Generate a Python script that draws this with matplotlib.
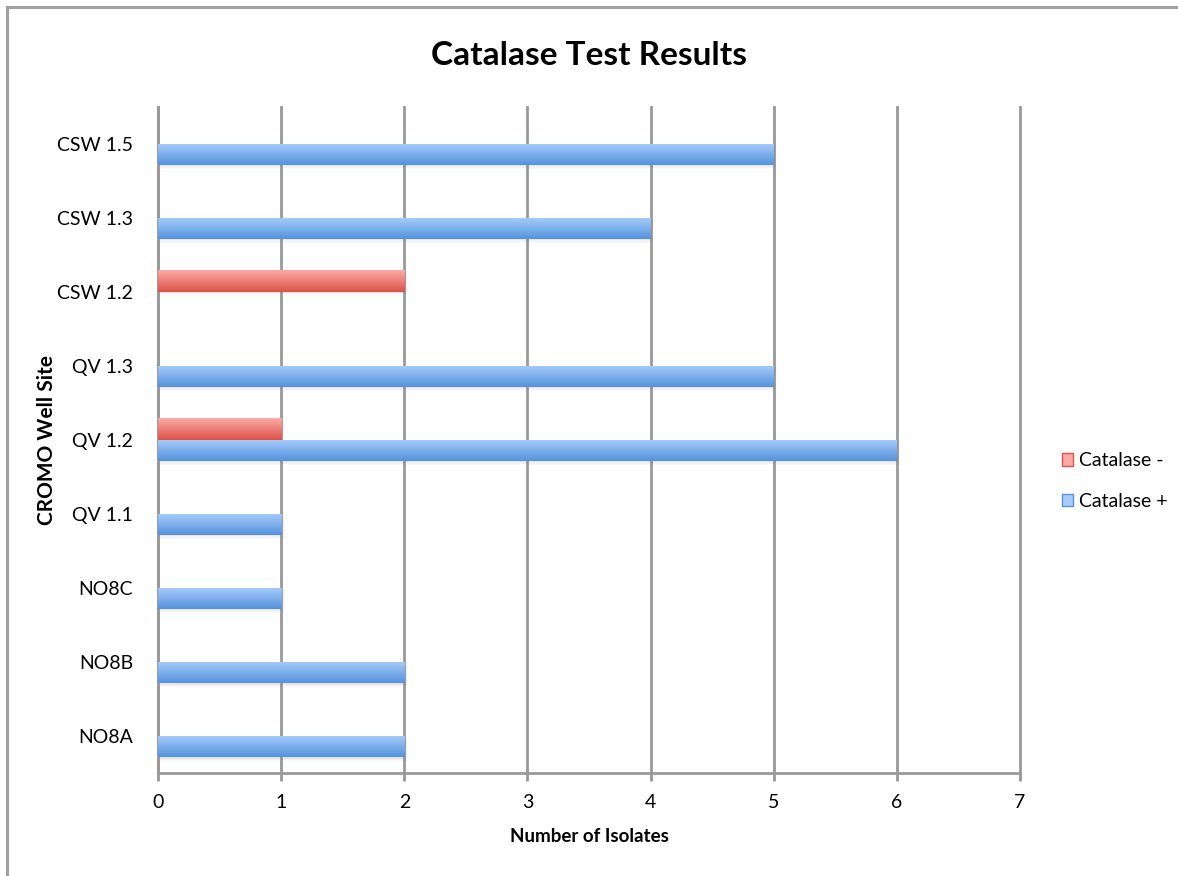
import numpy as np
import matplotlib.pyplot as plt
from matplotlib.patches import Rectangle
from matplotlib.colors import LinearSegmentedColormap

plt.rcParams['font.family'] = ['Lato', 'DejaVu Sans']

# well sites, bottom to top
sites = ['NO8A', 'NO8B', 'NO8C', 'QV 1.1', 'QV 1.2', 'QV 1.3', 'CSW 1.2', 'CSW 1.3', 'CSW 1.5']
catalase_neg = [0, 0, 0, 0, 1, 0, 2, 0, 0]
catalase_pos = [2, 2, 1, 1, 6, 5, 0, 4, 5]

series_names = ['Catalase -', 'Catalase +']
blue_grad = ['#5593dd', '#a8ccfa']
red_grad = ['#dd5249', '#fbaaa6']

fig = plt.figure(figsize=(11.78, 8.76), dpi=100)
W, H = 1178, 876
ax = fig.add_axes([158 / W, 1 - 773 / H, (1020 - 158) / W, (773 - 106.7) / H])

# outer chart frame
fig.patches.append(Rectangle((6.5 / W, -0.05), 1.1, 1 - 6.5 / H + 0.05,
                             transform=fig.transFigure, fill=False,
                             edgecolor='#a0a0a0', linewidth=2.2, zorder=0))

h = 0.29
y = np.arange(len(sites))


def gradient_bars(ypos, widths, colors):
    cmap = LinearSegmentedColormap.from_list('g', colors)
    grad = np.linspace(0, 1, 64).reshape(-1, 1)
    bars = ax.barh(ypos, widths, height=h, color='none', edgecolor='none', zorder=3)
    for b in bars:
        x0, y0 = b.get_x(), b.get_y()
        w, hh = b.get_width(), b.get_height()
        if w <= 0:
            continue
        # soft shadow under each bar
        for k, a in enumerate([0.09, 0.06, 0.03]):
            ax.add_patch(Rectangle((x0 + 0.01, y0 - 0.015 - 0.02 * k), w + 0.01 * k, hh,
                                   facecolor='#777777', edgecolor='none', alpha=a, zorder=2))
        im = ax.imshow(grad, extent=(x0, x0 + w, y0, y0 + hh), origin='lower',
                       cmap=cmap, aspect='auto', zorder=3, interpolation='bilinear')
        im.set_clip_path(b)
    return bars


gradient_bars(y + h / 2, catalase_neg, red_grad)
gradient_bars(y - h / 2, catalase_pos, blue_grad)

ax.set_xlim(0, 7)
ax.set_ylim(-0.5, len(sites) - 0.5)
ax.set_yticks(y)
ax.set_yticklabels(sites)
ax.set_xticks(range(8))
ax.xaxis.grid(True, color='#999999', linewidth=2, zorder=1)
for gl in ax.get_xgridlines():
    gl.set_clip_on(False)
ax.set_axisbelow(True)
for s in ['top', 'right']:
    ax.spines[s].set_visible(False)
for s in ['left', 'bottom']:
    ax.spines[s].set_color('#999999')
    ax.spines[s].set_linewidth(2)
ax.tick_params(axis='x', length=6, width=2, color='#999999', labelsize=14, pad=9)
ax.tick_params(axis='y', length=0, labelsize=14, pad=18)

ax.set_title('Catalase Test Results', fontsize=24, fontweight='bold', pad=30)
ax.set_xlabel('Number of Isolates', fontsize=13.5, fontweight='bold', labelpad=12)
ax.set_ylabel('CROMO Well Site', fontsize=15, fontweight='bold')
ax.yaxis.set_label_coords((57 - 158) / (1020 - 158), 0.5)

# legend with small square swatches
handles = [Rectangle((0, 0), 1, 1, facecolor=red_grad[1], edgecolor=red_grad[0]),
           Rectangle((0, 0), 1, 1, facecolor=blue_grad[1], edgecolor=blue_grad[0])]
fig.legend(handles, series_names, loc='center left', bbox_to_anchor=(1044 / W, 1 - 481 / H),
           frameon=False, fontsize=14, handlelength=0.6, handleheight=0.6,
           handletextpad=0.3, labelspacing=1.2)

fig.savefig('out.png', dpi=100)
